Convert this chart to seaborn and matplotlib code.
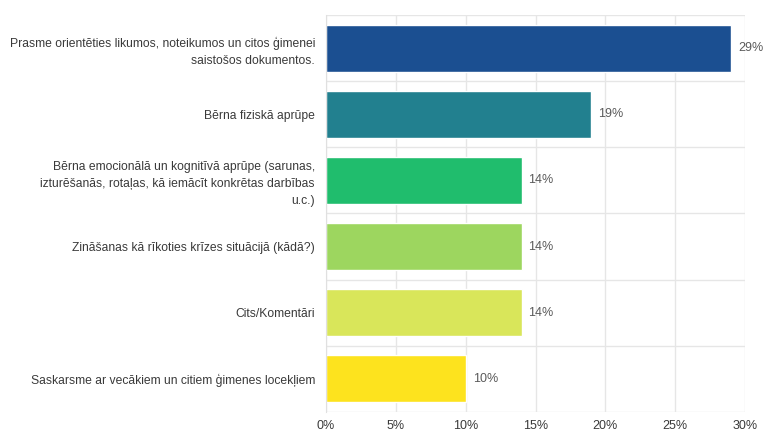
import numpy as np
import pandas as pd
import matplotlib
matplotlib.use("Agg")
import matplotlib.pyplot as plt
import seaborn as sb
from matplotlib.ticker import FixedLocator, PercentFormatter

# Chart data
labels = [
    "Prasme orientēties likumos, noteikumos un citos ģimenei\nsaistošos dokumentos.",
    "Bērna fiziskā aprūpe",
    "Bērna emocionālā un kognitīvā aprūpe (sarunas,\nizturēšanās, rotaļas, kā iemācīt konkrētas darbības\nu.c.)",
    "Zināšanas kā rīkoties krīzes situācijā (kādā?)",
    "Cits/Komentāri",
    "Saskarsme ar vecākiem un citiem ģimenes locekļiem",
]
values = [29, 19, 14, 14, 14, 10]
colors = ["#1b4f91", "#22808f", "#20bd6d", "#9dd65f", "#d9e65a", "#fde31e"]

df = pd.DataFrame({"label": labels, "value": values})

sb.set_style("white")
plt.rcParams["font.family"] = ["Liberation Sans", "DejaVu Sans"]

fig = plt.figure(figsize=(7.66, 4.32), dpi=100)
ax = fig.add_axes([0.4256, 0.0463, 0.547, 0.919])

sb.barplot(data=df, x="value", y="label", hue="label", palette=colors,
           legend=False, width=0.71, ax=ax, saturation=1)

# value labels
for i, v in enumerate(values):
    ax.text(v + 0.5, i, f"{v}%", va="center", ha="left", fontsize=9, color="#5a5a5a")

ax.set_xlim(0, 30)
ax.set_ylim(5.5, -0.5)
ax.xaxis.set_major_locator(FixedLocator([0, 5, 10, 15, 20, 25, 30]))
ax.xaxis.set_major_formatter(PercentFormatter(decimals=0))
ax.grid(axis="x", color="#e6e6e6", linewidth=1)
ax.set_axisbelow(True)

# horizontal separators between categories
ax.yaxis.set_minor_locator(FixedLocator(np.arange(-0.5, 6, 1)))
ax.tick_params(axis="y", which="minor", length=8, color="#e0e0e0", width=1)
ax.tick_params(axis="y", which="major", length=0, pad=8, labelsize=8.7, labelcolor="#3a3a3a")
ax.tick_params(axis="x", length=0, pad=6, labelsize=9, labelcolor="#3a3a3a")
for yb in np.arange(-0.5, 6, 1):
    ax.axhline(yb, color="#e6e6e6", linewidth=1, zorder=0)
for lab in ax.get_yticklabels():
    lab.set_horizontalalignment("right")
    lab.set_multialignment("right")
    lab.set_linespacing(1.55)

for s in ["top", "right", "bottom"]:
    ax.spines[s].set_visible(False)
ax.spines["left"].set_color("#e0e0e0")

ax.set_xlabel("")
ax.set_ylabel("")

fig.savefig("out.png", dpi=100)
